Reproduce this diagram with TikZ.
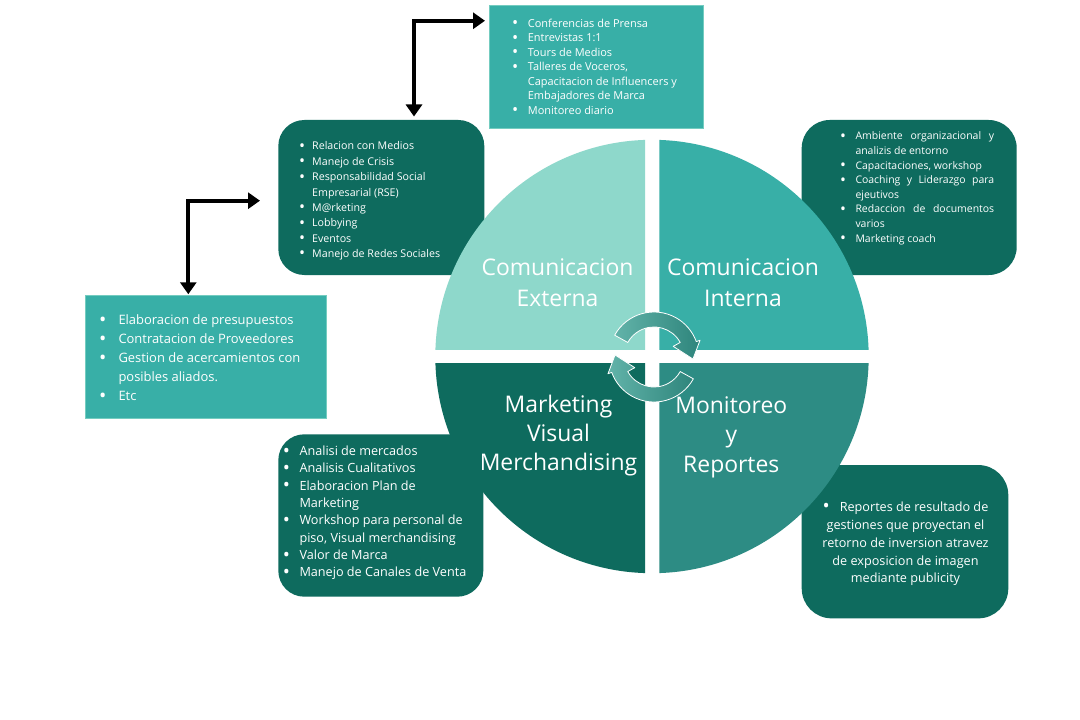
\documentclass[tikz,border=0pt]{standalone}
\usepackage{fontspec}
\setmainfont{Open Sans}
\usetikzlibrary{arrows.meta}
\definecolor{dk}{HTML}{0E6B5E}
\definecolor{md}{HTML}{38AFA7}
\definecolor{lt}{HTML}{8ED8CB}
\definecolor{br}{HTML}{2D8C84}
\definecolor{arA}{HTML}{62B3A9}
\definecolor{arB}{HTML}{2E857C}
\newcommand\bigbul{\raisebox{-0.13em}{\scalebox{1.5}{\textbullet}}}
\newcommand\itm[1]{\llap{\bigbul\hspace{#1}}}
\begin{document}
\begin{tikzpicture}[x=1bp,y=-1bp,
  sqbox/.style={fill=md, draw=lt!70!md, line width=0.8bp, inner sep=0, outer sep=0},
  rbox/.style={fill=dk, draw=none, inner sep=0, outer sep=0},
  lst/.style={text=white, inner sep=0, anchor=base west},
  lab/.style={text=white, inner sep=0, anchor=base, font=\fontsize{23}{31.6}\selectfont},
  blk/.style={line width=4bp, line join=miter, {Triangle[length=12bp,width=16bp]}-{Triangle[length=12bp,width=16bp]}},
  cyc/.style={draw=white, line width=0.8bp, line join=round}]
\useasboundingbox (0,0) rectangle (1080,720);
\fill[white] (0,0) rectangle (1080,720);

% boxes
\node[sqbox, minimum width=214bp, minimum height=123.3bp] (conf) at (596.3,66.7) {};
\node[rbox, minimum width=206bp, minimum height=155bp, rounded corners=26bp] (medios) at (381.3,197.5) {};
\node[rbox, minimum width=215bp, minimum height=155bp, rounded corners=28bp] (amb) at (909.2,197.5) {};
\node[sqbox, minimum width=241.7bp, minimum height=123.3bp] (elab) at (205.8,356.7) {};
\node[rbox, minimum width=205bp, minimum height=162.4bp, rounded corners=26bp] (anal) at (380.8,515.5) {};
\node[rbox, minimum width=206.6bp, minimum height=153.3bp, rounded corners=30bp] (rep) at (905,541.7) {};

% quadrants
\begin{scope}
  \clip (0,0) rectangle (645,349);
  \fill[lt] (652,356.5) circle[radius=216.7];
\end{scope}
\begin{scope}
  \clip (659.3,0) rectangle (1080,349);
  \fill[md] (652,356.5) circle[radius=216.7];
\end{scope}
\begin{scope}
  \clip (0,363.3) rectangle (645,720);
  \fill[dk] (652,356.5) circle[radius=216.7];
\end{scope}
\begin{scope}
  \clip (659.3,363.3) rectangle (1080,720);
  \fill[br] (652,356.5) circle[radius=216.7];
\end{scope}

% list texts
\node[lst, font=\fontsize{11}{14.6}\selectfont] (conf-t) at (527.7,27.2) {\begin{tabular}[t]{@{}l@{}}
\itm{9.5bp}Conferencias de Prensa\\
\itm{9.5bp}Entrevistas 1:1\\
\itm{9.5bp}Tours de Medios\\
\itm{9.5bp}Talleres de Voceros,\\
Capacitacion de Influencers y\\
Embajadores de Marca\\
\itm{9.5bp}Monitoreo diario
\end{tabular}};

\node[lst, font=\fontsize{10.7}{15.4}\selectfont] (medios-t) at (312,150) {\begin{tabular}[t]{@{}l@{}}
\itm{7bp}Relacion con Medios\\
\itm{7bp}Manejo de Crisis\\
\itm{7bp}Responsabilidad Social\\
Empresarial (RSE)\\
\itm{7bp}M@rketing\\
\itm{7bp}Lobbying\\
\itm{7bp}Eventos\\
\itm{7bp}Manejo de Redes Sociales
\end{tabular}};

\node[lst, font=\fontsize{10.5}{14.67}\selectfont] (amb-t) at (855.3,139.8) {\begin{tabular}[t]{@{}l@{}}
\itm{9.5bp}\makebox[138.7bp][s]{Ambiente organizacional y}\\
analizis de entorno\\
\itm{9.5bp}Capacitaciones, workshop\\
\itm{9.5bp}\makebox[138.7bp][s]{Coaching y Liderazgo para}\\
ejeutivos\\
\itm{9.5bp}\makebox[138.7bp][s]{Redaccion de documentos}\\
varios\\
\itm{9.5bp}Marketing coach
\end{tabular}};

\node[lst, font=\fontsize{13}{19}\selectfont] (elab-t) at (118.3,324.6) {\begin{tabular}[t]{@{}l@{}}
\itm{12bp}Elaboracion de presupuestos\\
\itm{12bp}Contratacion de Proveedores\\
\itm{12bp}Gestion de acercamientos con\\
posibles aliados.\\
\itm{12bp}Etc
\end{tabular}};

\node[lst, font=\fontsize{12.7}{17.4}\selectfont] (anal-t) at (299.3,455.5) {\begin{tabular}[t]{@{}l@{}}
\itm{9.5bp}Analisi de mercados\\
\itm{9.5bp}Analisis Cualitativos\\
\itm{9.5bp}Elaboracion Plan de\\
Marketing\\
\itm{9.5bp}Workshop para personal de\\
piso, Visual merchandising\\
\itm{9.5bp}Valor de Marca\\
\itm{9.5bp}Manejo de Canales de Venta
\end{tabular}};

\node[text=white, inner sep=0, anchor=base, font=\fontsize{12.7}{18}\selectfont] (rep-t) at (905.5,511.2) {\begin{tabular}[t]{@{}c@{}}
\bigbul\hspace{10bp}Reportes de resultado de\\
gestiones que proyectan el\\
retorno de inversion atravez\\
de exposicion de imagen\\
mediante publicity
\end{tabular}};

% quadrant labels
\node[lab] (ext) at (557.5,275) {\begin{tabular}[t]{@{}c@{}}Comunicacion\\Externa\end{tabular}};
\node[lab] (int) at (743,275) {\begin{tabular}[t]{@{}c@{}}Comunicacion\\Interna\end{tabular}};
\node[lab, font=\fontsize{23}{29.2}\selectfont] (mkt) at (558.5,412) {\begin{tabular}[t]{@{}c@{}}Marketing\\Visual\\Merchandising\end{tabular}};
\node[lab, font=\fontsize{23}{30}\selectfont] (mon) at (731.3,413) {\begin{tabular}[t]{@{}c@{}}Monitoreo\\y\\Reportes\end{tabular}};

% cycle arrows
\begin{scope}[shift={(654,357)}, yscale=-1]
  \path[cyc, left color=arA, right color=arB]
    (151:45) arc[start angle=151, end angle=20, radius=45] -- (20:49) -- (-3:39) -- (29:22) -- (29:30)
    arc[start angle=29, end angle=151, radius=30] -- cycle;
  \path[cyc, left color=arA, right color=arB]
    (-29:45) arc[start angle=-29, end angle=-160, radius=45] -- (-160:49) -- (177:39) -- (-151:22) -- (-151:30)
    arc[start angle=-151, end angle=-29, radius=30] -- cycle;
\end{scope}

% black connectors
\draw[blk] ([shift={(32.7,-3.5)}]medios.north) |- ([shift={(-4.3,15.7)}]conf.north west);
\draw[blk] ([shift={(-17.5,-0.8)}]elab.north) |- ([shift={(-18.3,3.2)}]medios.west);
\end{tikzpicture}
\end{document}
